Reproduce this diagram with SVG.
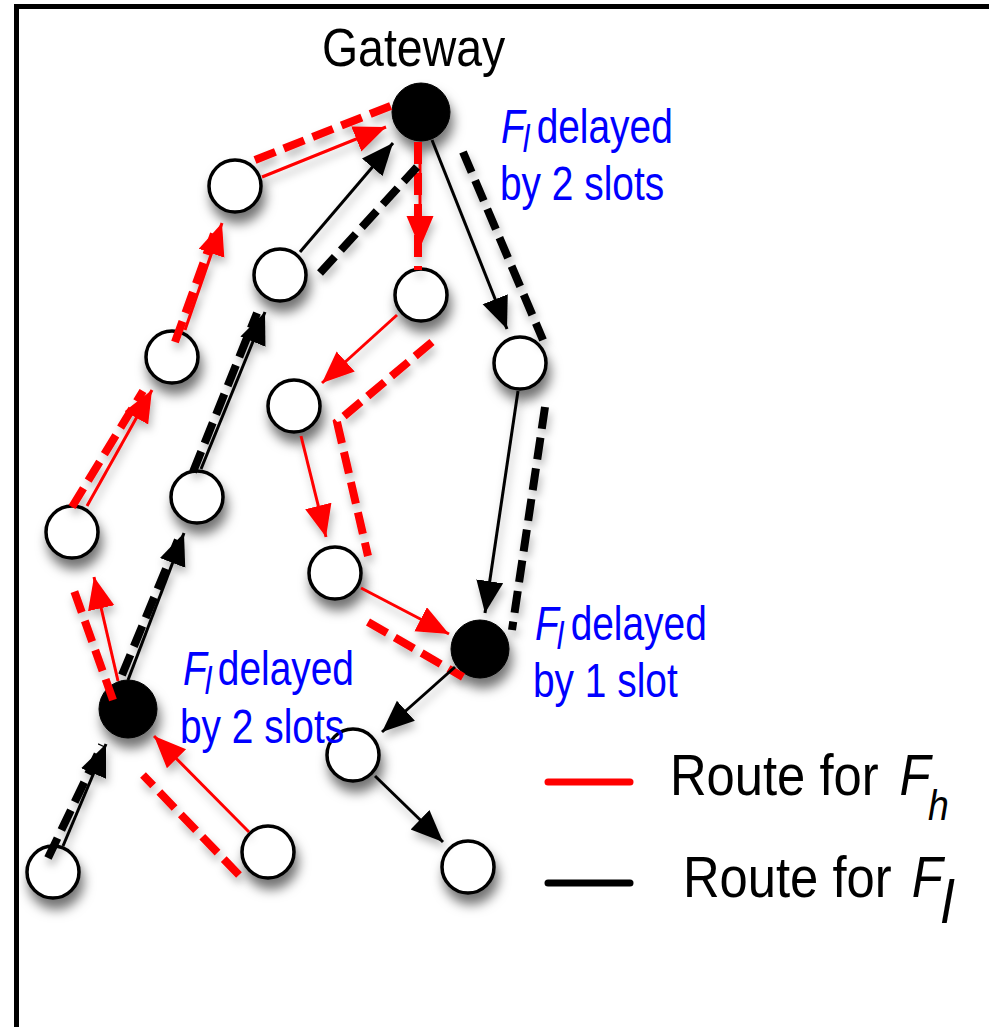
<svg xmlns="http://www.w3.org/2000/svg" width="989" height="1027" viewBox="0 0 989 1027">
  <defs>
    <style>
      .wn { fill: #ffffff; stroke: #000000; stroke-width: 3.5; }
      .bn { fill: #000000; stroke: #000000; stroke-width: 1; }
      .rs { fill: none; stroke: #ff0000; stroke-width: 3; marker-end: url(#arrR); }
      .ks { fill: none; stroke: #000000; stroke-width: 3; marker-end: url(#arrK); }
      .rd { fill: none; stroke: #ff0000; stroke-width: 8; stroke-dasharray: 22 9; }
      .kd { fill: none; stroke: #000000; stroke-width: 8; stroke-dasharray: 22 9; }
      .lbl { font-family: "Liberation Sans", Arial, Helvetica, sans-serif; }
      .blue { fill: #0000ff; font-size: 48px; }
      .blk { fill: #000000; }
      .it { font-style: italic; }
    </style>
    <marker id="arrR" markerUnits="userSpaceOnUse" markerWidth="34" markerHeight="28" refX="32" refY="13.5" orient="auto">
      <path d="M0,0 L32,13.5 L0,27 Z" fill="#ff0000"/>
    </marker>
    <marker id="arrK" markerUnits="userSpaceOnUse" markerWidth="34" markerHeight="28" refX="32" refY="13.5" orient="auto">
      <path d="M0,0 L32,13.5 L0,27 Z" fill="#000000"/>
    </marker>
    <filter id="nodeShadow" filterUnits="userSpaceOnUse" x="0" y="0" width="989" height="1027">
      <feDropShadow dx="3" dy="10" stdDeviation="6" flood-color="#000000" flood-opacity="0.55"/>
    </filter>
    <filter id="lineShadow" filterUnits="userSpaceOnUse" x="0" y="0" width="989" height="1027">
      <feDropShadow dx="2" dy="6" stdDeviation="4" flood-color="#000000" flood-opacity="0.28"/>
    </filter>
  </defs>

  <rect x="0" y="0" width="989" height="1027" fill="#ffffff"/>

  <!-- frame: left and top edges -->
  <path d="M16.5,1027 V6.5 H989" fill="none" stroke="#000000" stroke-width="5"/>

  <!-- nodes -->
  <g filter="url(#nodeShadow)">
    <g id="gateway"><circle class="bn" cx="421" cy="112" r="29"/></g>
    <g id="n1"><circle class="wn" cx="235" cy="186" r="26"/></g>
    <g id="n2"><circle class="wn" cx="280" cy="275" r="26"/></g>
    <g id="n3"><circle class="wn" cx="421" cy="295" r="26"/></g>
    <g id="n4"><circle class="wn" cx="520" cy="363" r="26"/></g>
    <g id="n5"><circle class="wn" cx="172" cy="357" r="26"/></g>
    <g id="n6"><circle class="wn" cx="294" cy="406" r="26"/></g>
    <g id="n7"><circle class="wn" cx="72" cy="532" r="26"/></g>
    <g id="n8"><circle class="wn" cx="197" cy="497" r="26"/></g>
    <g id="n9"><circle class="wn" cx="335" cy="573" r="26"/></g>
    <g id="n10"><circle class="bn" cx="480" cy="649" r="29"/></g>
    <g id="n11"><circle class="bn" cx="128" cy="709" r="29"/></g>
    <g id="n12"><circle class="wn" cx="353" cy="755" r="26"/></g>
    <g id="n13"><circle class="wn" cx="53" cy="872" r="26"/></g>
    <g id="n14"><circle class="wn" cx="268" cy="852" r="26"/></g>
    <g id="n15"><circle class="wn" cx="468" cy="867" r="26"/></g>
  </g>

  <!-- connectors: thin arrows are hops, thick dashes are the schedule paths -->
  <g id="connectors" filter="url(#lineShadow)">
    <!-- route for F_h -->
    <line class="rs" x1="249" y1="832" x2="154" y2="736"/>
    <line class="rs" x1="118" y1="681" x2="94" y2="577"/>
    <line class="rs" x1="87" y1="506" x2="152" y2="390"/>
    <line class="rs" x1="185" y1="330" x2="222" y2="223"/>
    <line class="rs" x1="262" y1="177" x2="386" y2="127"/>
    <line class="rs" x1="420" y1="142" x2="420" y2="248"/>
    <line class="rs" x1="397" y1="315" x2="322" y2="383"/>
    <line class="rs" x1="301" y1="436" x2="326" y2="537"/>
    <line class="rs" x1="361" y1="588" x2="449" y2="634"/>

    <line class="rd" x1="239" y1="875" x2="143" y2="775"/>
    <line class="rd" x1="113" y1="700" x2="72" y2="585"/>
    <line class="rd" x1="72" y1="507" x2="143" y2="391"/>
    <line class="rd" x1="175" y1="342" x2="216" y2="228"/>
    <line class="rd" x1="255" y1="160" x2="398" y2="103"/>
    <line class="rd" x1="418" y1="142" x2="418" y2="270"/>
    <polyline class="rd" points="432,342 337,422 368,556"/>
    <line class="rd" x1="368" y1="622" x2="463" y2="677"/>

    <!-- route for F_l -->
    <line class="ks" x1="63" y1="846" x2="106" y2="744"/>
    <line class="ks" x1="128" y1="680" x2="184" y2="533"/>
    <line class="ks" x1="201" y1="469" x2="265" y2="312"/>
    <line class="ks" x1="300" y1="252" x2="393" y2="143"/>
    <line class="ks" x1="432" y1="140" x2="507" y2="329"/>
    <line class="ks" x1="518" y1="391" x2="485" y2="613"/>
    <line class="ks" x1="455" y1="667" x2="382" y2="732"/>
    <line class="ks" x1="375" y1="776" x2="443" y2="842"/>

    <line class="kd" x1="48" y1="858" x2="102" y2="745"/>
    <line class="kd" x1="122" y1="675" x2="180" y2="535"/>
    <line class="kd" x1="193" y1="472" x2="257" y2="313"/>
    <line class="kd" x1="320" y1="273" x2="417" y2="167"/>
    <line class="kd" x1="463" y1="152" x2="543" y2="340"/>
    <line class="kd" x1="545" y1="407" x2="512" y2="630"/>
  </g>

  <!-- legend -->
  <g id="legend">
    <line x1="548" y1="782" x2="630" y2="782" stroke="#ff0000" stroke-width="7" stroke-linecap="round"/>
    <line x1="548" y1="883" x2="630" y2="883" stroke="#000000" stroke-width="7" stroke-linecap="round"/>
    <text class="lbl blk" font-size="57" transform="translate(670,795) scale(0.89,1)">Route for <tspan class="it" x="258" y="0">F</tspan><tspan class="it" font-size="42" x="290" y="25">h</tspan></text>
    <text class="lbl blk" font-size="57" transform="translate(683,897) scale(0.89,1)">Route for <tspan class="it" x="257" y="0">F</tspan><tspan class="it" font-size="62" x="290" y="26">l</tspan></text>
  </g>

  <!-- labels -->
  <g id="labels">
    <text class="lbl blk" font-size="54" transform="translate(322,66) scale(0.86,1)">Gateway</text>

    <text class="lbl blue" transform="translate(501,143) scale(0.81,1)"><tspan class="it">F</tspan><tspan class="it" font-size="38" x="27" y="9">l</tspan><tspan x="44" y="0">delayed</tspan></text>
    <text class="lbl blue" transform="translate(500,200) scale(0.81,1)">by 2 slots</text>

    <text class="lbl blue" transform="translate(535,640) scale(0.81,1)"><tspan class="it">F</tspan><tspan class="it" font-size="38" x="27" y="9">l</tspan><tspan x="44" y="0">delayed</tspan></text>
    <text class="lbl blue" transform="translate(533,697) scale(0.81,1)">by 1 slot</text>

    <text class="lbl blue" transform="translate(183,685) scale(0.81,1)"><tspan class="it">F</tspan><tspan class="it" font-size="38" x="27" y="9">l</tspan><tspan x="43" y="0">delayed</tspan></text>
    <text class="lbl blue" transform="translate(180,743) scale(0.81,1)">by 2 slots</text>
  </g>
</svg>
